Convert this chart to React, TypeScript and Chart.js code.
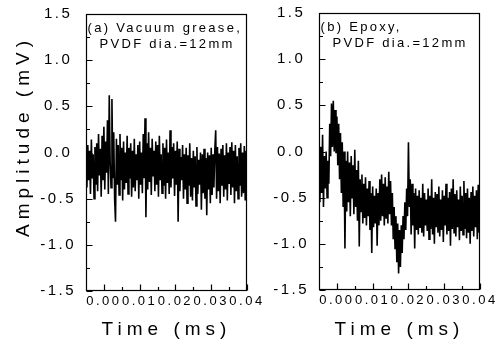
import React, { useEffect, useRef } from 'react';
import { Chart, registerables } from 'chart.js';

Chart.register(...registerables);

// ---------- data ----------
const T_START = -0.005; // ms, time of first sample
const T_STEP = 0.00025; // ms, sample interval
const X_MIN = -0.005;
const X_MAX = 0.04;
const Y_MIN = -1.5;
const Y_MAX = 1.5;
const X_TICKS = [0, 0.01, 0.02, 0.03, 0.04];
const Y_TICKS = [-1.5, -1.0, -0.5, 0, 0.5, 1.0, 1.5];

const X_TITLE = 'Time (ms)';
const Y_TITLE = 'Amplitude (mV)';
const PANEL_A_LABEL = ['(a) Vacuum grease,', 'PVDF dia.=12mm'];
const PANEL_B_LABEL = ['(b) Epoxy,', 'PVDF dia.=12mm'];

// (a) vacuum grease coupling, amplitude in mV
const vacuumGrease = [
  -0.05, -0.38, 0.08, -0.30, 0.02, -0.45, 0.14, -0.28, -0.02, -0.50,
  0.06, -0.35, 0.10, -0.42, 0.20, -0.25, 0.04, -0.48, 0.18, -0.30,
  0.28, -0.40, 0.12, -0.22, 0.35, -0.45, 0.62, -0.10, -0.38, 0.58,
  -0.28, 0.22, -0.50, -0.75, 0.15, -0.35, 0.08, -0.46, 0.20, -0.30,
  0.05, -0.52, 0.12, -0.40, 0.00, -0.33, 0.18, -0.45, 0.05, -0.28,
  0.10, -0.48, 0.02, -0.38, 0.15, -0.42, -0.02, -0.30, 0.08, -0.50,
  0.12, -0.35, 0.00, -0.44, 0.20, -0.28, 0.37, -0.70, 0.10, -0.40,
  0.22, -0.32, 0.05, -0.46, 0.15, -0.25, 0.02, -0.42, 0.12, -0.35,
  0.08, -0.48, 0.18, -0.30, -0.02, -0.44, 0.10, -0.36, 0.05, -0.50,
  0.14, -0.33, 0.00, -0.45, 0.24, -0.38, 0.06, -0.28, 0.10, -0.47,
  0.02, -0.35, 0.12, -0.75, 0.04, -0.42, -0.05, -0.30, 0.08, -0.50,
  -0.02, -0.40, 0.05, -0.55, -0.03, -0.36, 0.10, -0.48, -0.06, -0.52,
  0.02, -0.38, -0.04, -0.58, 0.06, -0.45, -0.08, -0.35, 0.00, -0.62,
  -0.02, -0.44, 0.04, -0.50, -0.06, -0.68, 0.00, -0.40, -0.03, -0.55,
  0.05, -0.46, -0.02, -0.38, 0.02, 0.24, -0.50, 0.06, -0.42, -0.01,
  -0.55, 0.04, -0.36, 0.08, -0.48, -0.03, -0.40, 0.10, -0.52, 0.00,
  -0.34, 0.06, -0.46, 0.11, -0.38, 0.02, -0.55, 0.08, -0.42, -0.04,
  -0.50, 0.05, -0.36, 0.10, -0.48, 0.00, -0.44, 0.07, -0.52, 0.02,
  -0.40,
];

// (b) epoxy coupling, amplitude in mV
const epoxy = [
  -0.20, -0.55, 0.05, -0.45, 0.18, -0.60, -0.05, -0.40, 0.00, -0.50, -0.10,
  -0.35, 0.30, -0.05, 0.52, 0.05, 0.55, 0.00, 0.45, -0.02, 0.38,
  -0.15, 0.30, -0.30, 0.20, -0.45, 0.10, -0.60, 0.00, -1.05, -0.10,
  -0.65, 0.00, -0.55, -0.12, -0.70, -0.05, -0.50, -0.15, -0.68, 0.02,
  -0.60, -0.20, -0.75, -0.10, -1.03, -0.30, -0.65, -0.25, -0.78, -0.35,
  -0.72, -0.28, -0.80, -0.40, -0.70, -0.32, -0.85, -0.45, -1.10, -0.38,
  -0.82, -0.48, -0.78, -0.40, -1.02, -0.45, -0.80, -0.30, -0.75, -0.25,
  -0.70, -0.35, -0.80, -0.28, -0.72, -0.38, -0.78, -0.22, -0.68, -0.32,
  -0.80, -0.45, -0.95, -0.60, -1.05, -0.70, -1.20, -0.78, -1.32, -0.85,
  -1.25, -0.80, -1.10, -0.70, -0.95, -0.55, -0.85, -0.40, -0.70, 0.10,
  -0.60, -0.30, -0.90, -0.35, -0.80, -0.45, -1.05, -0.40, -0.85, -0.48,
  -0.90, -0.42, -0.82, -0.50, -0.88, -0.35, -0.92, -0.45, -0.80, -0.52,
  -0.86, -0.40, -0.95, -0.48, -0.84, -0.30, -0.90, -0.50, -1.00, -0.44,
  -0.82, -0.46, -0.88, -0.38, -0.92, -0.52, -0.85, -0.42, -0.98, -0.48,
  -0.80, -0.35, -0.90, -0.50, -0.86, -0.44, -1.02, -0.40, -0.84, -0.30,
  -0.88, -0.46, -0.92, -0.42, -0.82, -0.52, -0.96, -0.38, -0.86, -0.48,
  -0.90, -0.32, -0.84, -0.45, -0.94, -0.40, -0.88, -0.50, -1.00, -0.44,
  -0.86, -0.38, -0.92, -0.48, -0.82, -0.42, -0.95, -0.36, -0.88, -0.60,
];

// ---------- styling ----------
const FONT = "'Liberation Sans', Arial, Helvetica, sans-serif";
const TICK_LS = '2.5px';
const TITLE_LS = '5px';
const NOTE_LS = '2.3px';
const Y_TITLE_SHIFT = -16;

const spacingPlugin = {
  id: 'spacing',
  beforeLayout(chart: any) {
    chart.ctx.letterSpacing = TICK_LS;
  },
  beforeDraw(chart: any) {
    chart.ctx.letterSpacing = TICK_LS;
    Object.values(chart.scales).forEach((s: any) => {
      if (s.__patched) return;
      const orig = s.drawTitle;
      s.drawTitle = function () {
        const c = this.ctx;
        c.save();
        c.letterSpacing = TITLE_LS;
        if (this.axis === 'y') c.translate(0, Y_TITLE_SHIFT);
        orig.call(this);
        c.restore();
      };
      s.__patched = true;
    });
  },
};

const framePlugin = {
  id: 'frame',
  afterDraw(chart: any, _args: any, opts: any) {
    const { ctx, chartArea: a, scales } = chart;
    const x = scales.x;
    const y = scales.y;
    const L = Math.round(a.left) + 0.5;
    const R = Math.round(a.right) - 0.5;
    const T = Math.round(a.top) + 0.5;
    const B = Math.round(a.bottom) - 0.5;
    ctx.save();
    ctx.strokeStyle = '#000';
    ctx.lineWidth = 1.2;
    ctx.strokeRect(L, T, R - L, B - T);
    ctx.beginPath();
    const yv = y.ticks.map((t: any) => t.value);
    yv.forEach((v: number, i: number) => {
      const py = Math.round(y.getPixelForValue(v)) + 0.5;
      ctx.moveTo(L, py);
      ctx.lineTo(L + 6, py);
      if (i < yv.length - 1) {
        const pm = Math.round(y.getPixelForValue((v + yv[i + 1]) / 2)) + 0.5;
        ctx.moveTo(L, pm);
        ctx.lineTo(L + 3.5, pm);
      }
    });
    const xv = x.ticks.map((t: any) => t.value);
    xv.forEach((v: number, i: number) => {
      const px = Math.round(x.getPixelForValue(v)) + 0.5;
      ctx.moveTo(px, B);
      ctx.lineTo(px, B - 6);
      if (i < xv.length - 1) {
        const pm = Math.round(x.getPixelForValue((v + xv[i + 1]) / 2)) + 0.5;
        ctx.moveTo(pm, B);
        ctx.lineTo(pm, B - 3.5);
      }
    });
    ctx.stroke();
    // panel annotation
    ctx.fillStyle = '#000';
    ctx.font = `13px ${FONT}`;
    ctx.letterSpacing = NOTE_LS;
    ctx.textAlign = 'left';
    ctx.textBaseline = 'middle';
    (opts.notes || []).forEach((n: any) => {
      ctx.fillText(n.text, a.left + n.dx, a.top + n.dy);
    });
    ctx.restore();
  },
};

type Box = { left: number; w: number; padTop: number; padRight: number; yWidth: number; xHeight: number };

function Panel({ values, label, showYTitle, box }: { values: number[]; label: string[]; showYTitle: boolean; box: Box }) {
  const ref = useRef<HTMLCanvasElement>(null);
  useEffect(() => {
    const canvas = ref.current!;
    const chart = new Chart(canvas, {
      type: 'line',
      data: {
        datasets: [
          {
            data: values.map((v, i) => ({ x: T_START + i * T_STEP, y: v })),
            borderColor: '#000',
            borderWidth: 1.6,
            pointRadius: 0,
            tension: 0,
            fill: false,
          },
        ],
      },
      options: {
        animation: false,
        responsive: false,
        events: [],
        layout: { padding: { left: 0, top: box.padTop, right: box.padRight, bottom: 0 } },
        plugins: {
          legend: { display: false },
          tooltip: { enabled: false },
          frame: {
            notes: [
              { text: label[0], dx: 1.5, dy: 14 },
              { text: label[1], dx: 13.5, dy: 30 },
            ],
          },
        } as any,
        scales: {
          x: {
            type: 'linear',
            min: X_MIN,
            max: X_MAX,
            grid: { display: false, drawTicks: false, tickLength: 0 },
            border: { display: false },
            afterBuildTicks: (s: any) => {
              s.ticks = X_TICKS.map((v) => ({ value: v }));
            },
            afterFit: (s: any) => {
              s.height = box.xHeight;
              s.paddingLeft = 0;
              s.paddingRight = 0;
            },
            ticks: {
              autoSkip: false,
              maxRotation: 0,
              minRotation: 0,
              padding: 3,
              color: '#000',
              font: { family: FONT, size: 13 },
              callback: (v: any) => Number(v).toFixed(2),
            },
            title: {
              display: true,
              text: X_TITLE,
              color: '#000',
              font: { family: FONT, size: 19 },
              padding: { top: 0, bottom: 4 },
            },
          },
          y: {
            type: 'linear',
            min: Y_MIN,
            max: Y_MAX,
            grid: { display: false, drawTicks: false, tickLength: 0 },
            border: { display: false },
            afterBuildTicks: (s: any) => {
              s.ticks = Y_TICKS.map((v) => ({ value: v }));
            },
            afterFit: (s: any) => {
              s.width = box.yWidth;
              s.paddingTop = 0;
              s.paddingBottom = 0;
            },
            ticks: {
              crossAlign: 'center',
              padding: 10,
              color: '#000',
              font: { family: FONT, size: 15 },
              callback: (v: any) => Number(v).toFixed(1),
            },
            title: {
              display: showYTitle,
              text: Y_TITLE,
              color: '#000',
              font: { family: FONT, size: 19 },
              padding: { top: 12, bottom: 0 },
            },
          },
        },
      } as any,
      plugins: [spacingPlugin, framePlugin],
    } as any);
    return () => chart.destroy();
  }, []);
  return (
    <canvas
      ref={ref}
      width={box.w}
      height={345}
      style={{ position: 'absolute', left: box.left, top: 0, width: box.w, height: 345 }}
    />
  );
}

const BOX_A: Box = { left: 0, w: 268, padTop: 14, padRight: 21, yWidth: 86, xHeight: 54 };
const BOX_B: Box = { left: 262, w: 241, padTop: 13, padRight: 23, yWidth: 57, xHeight: 55 };

export default function App() {
  return (
    <div style={{ position: 'fixed', left: 0, top: 0, width: 503, height: 345, background: '#fff', overflow: 'hidden' }}>
      <Panel values={vacuumGrease} label={PANEL_A_LABEL} showYTitle={true} box={BOX_A} />
      <Panel values={epoxy} label={PANEL_B_LABEL} showYTitle={false} box={BOX_B} />
    </div>
  );
}
